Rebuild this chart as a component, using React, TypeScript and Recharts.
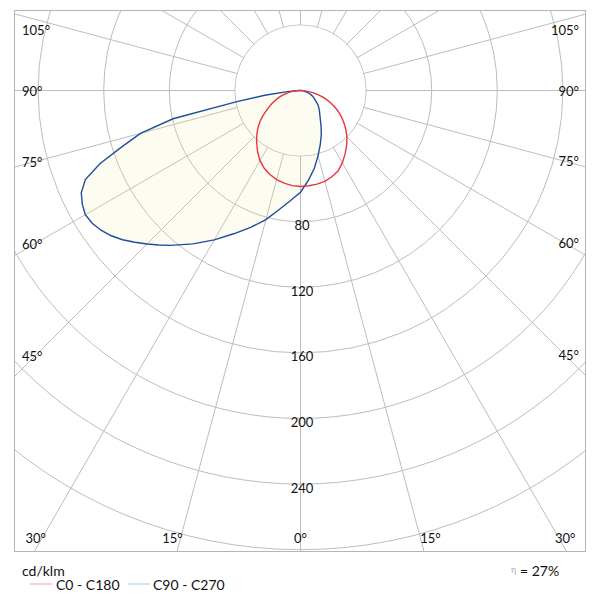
import { RadarChart, Radar, PolarGrid, PolarAngleAxis, PolarRadiusAxis } from 'recharts';

// gamma angles (deg from nadir) and intensities in cd/klm for each half plane
const gammas = [0, 5, 10, 15, 20, 25, 30, 35, 40, 42.5, 45, 47.5, 50, 52.5, 55, 57.5, 60, 62.5, 65, 67.5, 70, 72.5, 75, 77.5, 80, 82.5, 85, 87.5, 90, 105, 120, 135, 150, 165, 180];
const c0 = [58.5, 58.3, 58, 57.4, 56, 54.2, 51, 47.4, 43.7, 41.9, 40, 37.9, 35.8, 33.7, 31.6, 29.4, 27.2, 24.8, 22.4, 20, 17.6, 15.1, 12.6, 10.1, 7.6, 5.2, 3, 1.3, 0, 0, 0, 0, 0, 0, 0];
const c180 = [58.5, 58.2, 57.4, 56.2, 54.5, 52.3, 49.4, 45.6, 41.6, 39.6, 37.6, 35.5, 33.4, 31.1, 28.8, 26.2, 23.6, 21.6, 19.5, 17.5, 15.4, 13.5, 11.5, 9.5, 7.5, 5.5, 3.5, 1.5, 0, 0, 0, 0, 0, 0, 0];
const c90 = [62, 55, 48.3, 41.3, 35.2, 30, 25.1, 21, 18.2, 17.1, 16, 15, 14, 12.7, 11.5, 10.5, 9.6, 8.8, 8, 7, 6.2, 5, 4, 3, 2.2, 1.5, 1, 0.5, 0, 0, 0, 0, 0, 0, 0];
const c270 = [62, 67.2, 73.5, 81.5, 88.8, 96.4, 105.2, 114.2, 123.3, 127.8, 132.4, 137, 141.6, 145.5, 148.5, 150.6, 151.5, 150, 147.5, 142, 130, 114.3, 101, 79.6, 40, 22, 8, 3, 0, 0, 0, 0, 0, 0, 0];

const angleTicks = [-180, -165, -150, -135, -120, -105, -90, -75, -60, -45, -30, -15, 0, 15, 30, 45, 60, 75, 90, 105, 120, 135, 150, 165, 180];
const radiusTicks = [0, 40, 80, 120, 160, 200, 240, 280];
const radiusLabels = [80, 120, 160, 200, 240];

// signed angle: negative = left half (C180 / C270), positive = right half (C0 / C90)
const data = [
  ...gammas.map((g, i) => ({ theta: -g, red: c180[i], blue: c270[i] })).reverse(),
  ...gammas.slice(1).map((g, i) => ({ theta: g, red: c0[i + 1], blue: c90[i + 1] })),
];

const RED = '#e8343c';
const BLUE = '#1f4d9e';
const GRID = '#bdbdbd';
const FONT = 'Lato, sans-serif';

// page geometry
const OX = 15;
const OY = 11;
const PCX = 300.5;
const PCY = 90.5;
const PX40 = 65.6;
const RMAX = 360;

function AngleLabel(props: any) {
  const t = props.payload.value;
  const g = Math.abs(t);
  const rad = (g * Math.PI) / 180;
  const dx = Math.sin(rad) * (t < 0 ? -1 : 1);
  const dy = Math.cos(rad);
  const tSide = Math.abs(dx) < 1e-9 ? Infinity : dx < 0 ? (PCX - 14) / -dx : (585 - PCX) / dx;
  const tBottom = dy > 1e-9 ? (551 - PCY) / dy : Infinity;
  const tTop = dy < -1e-9 ? (PCY - 10) / -dy : Infinity;
  if (tTop < tSide) return <g />;
  let x: number;
  let y: number;
  let anchor: 'start' | 'end' | 'middle';
  if (tSide < tBottom) {
    const colX = dx < 0 ? 35 : 565;
    y = PCY + dy * ((colX - PCX) / dx);
    y = Math.max(30, y);
    x = dx < 0 ? 22 : 579;
    anchor = dx < 0 ? 'start' : 'end';
  } else {
    y = 537.5;
    const sx = PCX + dx * ((y - PCY) / dy);
    if (t === 0) {
      x = sx;
      anchor = 'middle';
    } else if (dx < 0) {
      x = Math.max(sx + 2, 46);
      anchor = 'end';
    } else {
      x = Math.min(sx, 555);
      anchor = 'start';
    }
  }
  return (
    <text x={x - OX} y={y - OY} textAnchor={anchor} dominantBaseline="central" fontSize={13} fontFamily={FONT} fill="#111">
      {g}°
    </text>
  );
}

function RadiusLabel(props: any) {
  const v = props.payload.value;
  if (!radiusLabels.includes(v)) return <g />;
  return (
    <text x={props.x + 1.5} y={props.y + 3.5} textAnchor="middle" dominantBaseline="central" fontSize={13} fontFamily={FONT} fill="#111">
      {v}
    </text>
  );
}

export default function App() {
  return (
    <div style={{ position: 'absolute', left: 0, top: 0, width: 600, height: 600, background: '#fff', fontFamily: FONT }}>
      <div style={{ position: 'absolute', left: 14, top: 10, width: 572, height: 542, boxSizing: 'border-box', border: '1px solid #b4b4b4', overflow: 'hidden' }}>
        <RadarChart
          width={570}
          height={540}
          data={data}
          cx={PCX - OX}
          cy={PCY - OY}
          outerRadius={(RMAX / 40) * PX40}
          startAngle={-270}
          endAngle={90}
          margin={{ top: 0, right: 0, bottom: 0, left: 0 }}
        >
          <PolarGrid gridType="circle" stroke={GRID} />
          <PolarAngleAxis
            dataKey="theta"
            type="number"
            domain={[-180, 180]}
            ticks={angleTicks}
            tickCount={25}
            axisLine={false}
            tickLine={false}
            tick={(p: any) => <AngleLabel {...p} />}
          />
          <PolarRadiusAxis
            angle={-90}
            type="number"
            domain={[0, RMAX]}
            ticks={radiusTicks}
            axisLine={false}
            tick={(p: any) => <RadiusLabel {...p} />}
          />
          <circle cx={PCX - OX} cy={PCY - OY} r={PX40 - 0.7} fill="#fff" />
          <Radar dataKey="blue" stroke={BLUE} strokeWidth={1.4} fill="#f2ea9a" fillOpacity={0.15} dot={false} isAnimationActive={false} />
          <Radar dataKey="red" stroke={RED} strokeWidth={1.4} fill="none" fillOpacity={0} dot={false} isAnimationActive={false} />
        </RadarChart>
      </div>
      <svg width={600} height={50} style={{ position: 'absolute', left: 0, top: 552 }}>
        <text x={22} y={18} dominantBaseline="central" fontSize={14} fontFamily={FONT} fill="#111">cd/klm</text>
        <line x1={30} x2={52} y1={32} y2={32} stroke="#f3a3a8" strokeWidth={1} />
        <text x={56} y={32} dominantBaseline="central" fontSize={14} fontFamily={FONT} fill="#111">C0 - C180</text>
        <line x1={128} x2={150} y1={32} y2={32} stroke="#a9c4e6" strokeWidth={1} />
        <text x={153} y={32} dominantBaseline="central" fontSize={14} fontFamily={FONT} fill="#111">C90 - C270</text>
        <text x={511} y={17} dominantBaseline="central" fontSize={9} fontFamily={FONT} fill="#aaa">η</text>
        <text x={520} y={18} dominantBaseline="central" fontSize={14} fontFamily={FONT} fill="#111">= 27%</text>
      </svg>
    </div>
  );
}
